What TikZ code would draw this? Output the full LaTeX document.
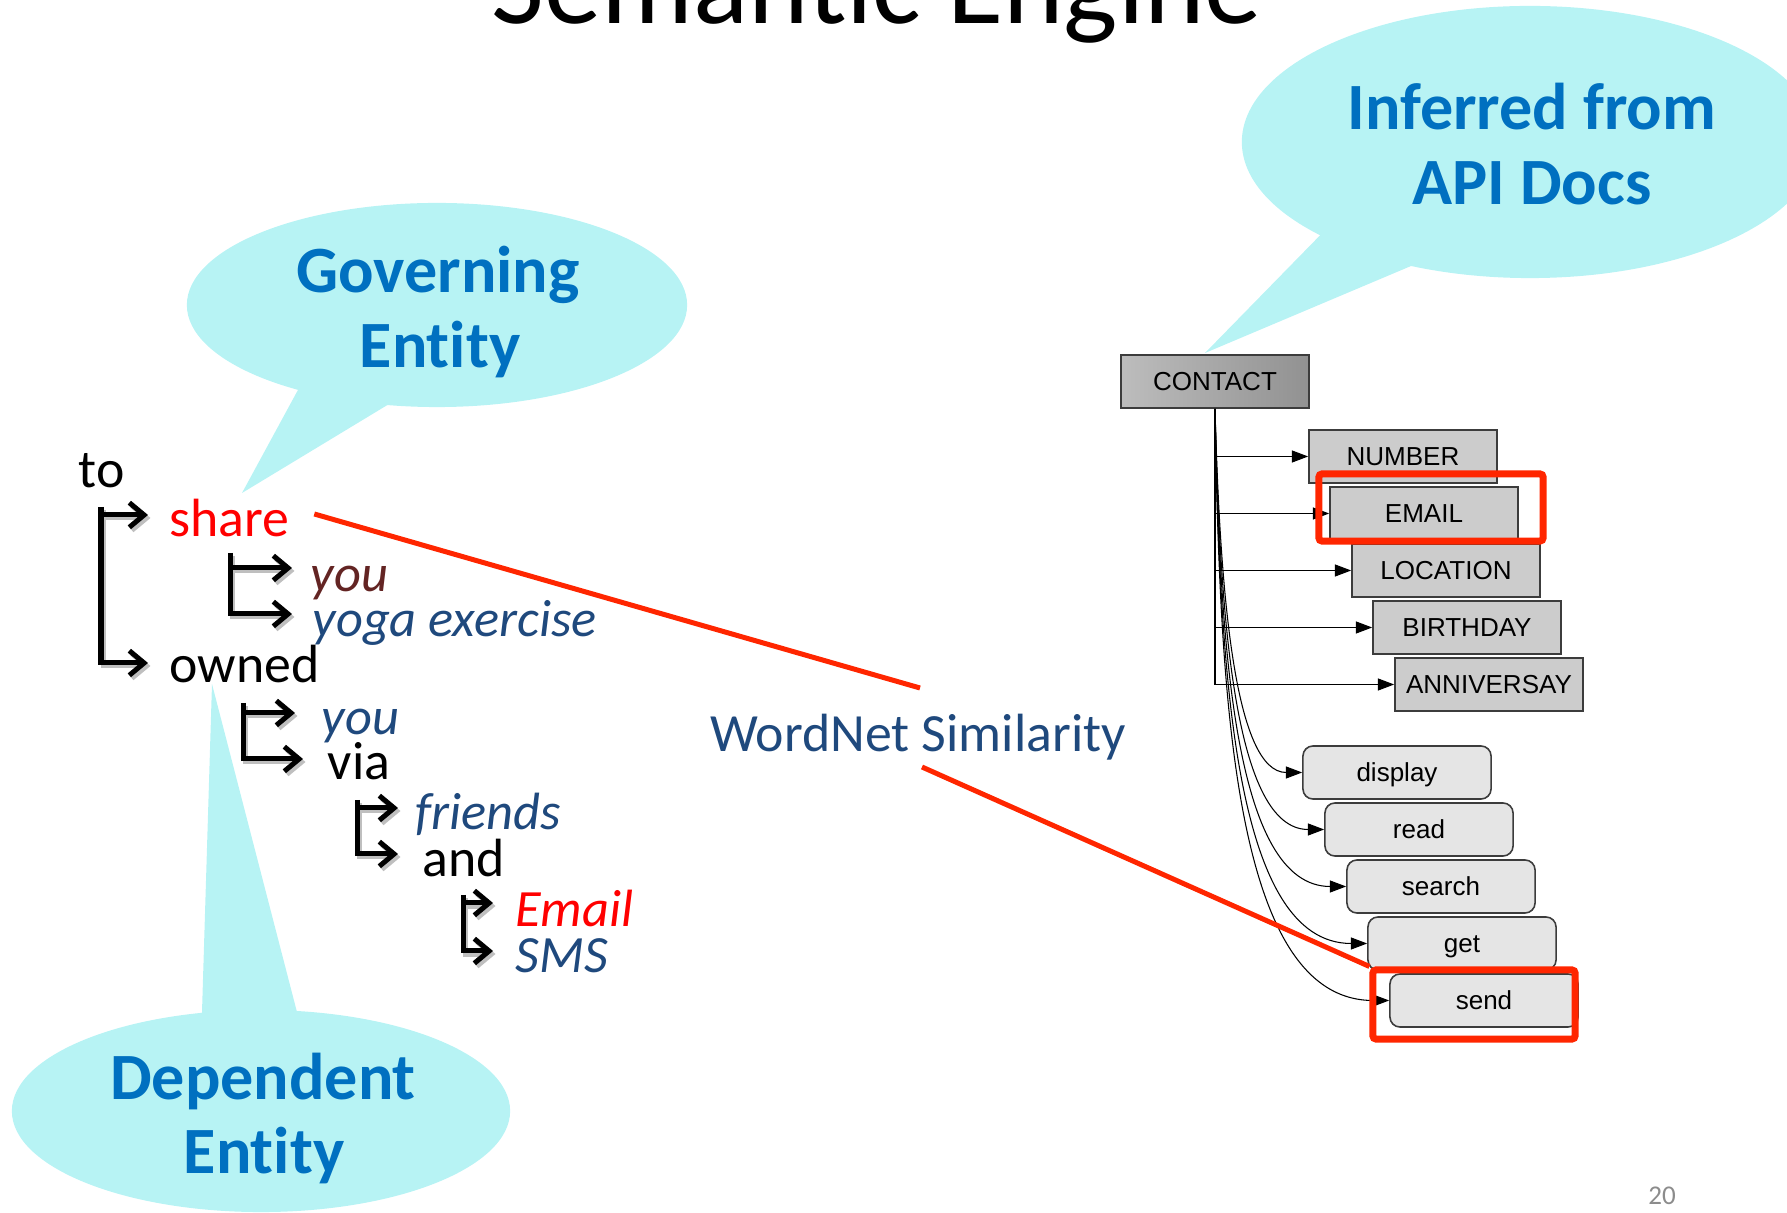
\documentclass[tikz,border=0pt]{standalone}
\usepackage{fontspec}
\setmainfont{Carlito}[Ligatures=NoCommon]
\newfontfamily\boxfont{Liberation Sans}
\usetikzlibrary{arrows.meta,calc}

\definecolor{bub}{RGB}{183,243,244}
\definecolor{bubtxt}{RGB}{0,112,192}
\definecolor{tblue}{RGB}{31,73,125}
\definecolor{tbrown}{RGB}{99,36,35}
\definecolor{hl}{RGB}{255,38,0}
\definecolor{pgnum}{RGB}{140,140,140}
\definecolor{boxfill}{RGB}{204,204,204}
\definecolor{mfill}{RGB}{229,229,229}
\definecolor{boxline}{RGB}{60,60,60}

\newcommand\treearrows[1]{%
  \draw[tarr,draw=#1] (b1 |- t1a) -- (t1a);
  \draw[tarr,draw=#1] (b1) |- (t1b);
  \draw[tarr,draw=#1] (b2 |- t2a) -- (t2a);
  \draw[tarr,draw=#1] (b2) |- (t2b);
  \draw[tarr,draw=#1] (b3 |- t3a) -- (t3a);
  \draw[tarr,draw=#1] (b3) |- (t3b);
  \draw[tarr,draw=#1] (b4 |- t4a) -- (t4a);
  \draw[tarr,draw=#1] (b4) |- (t4b);
  \draw[tarr,draw=#1] (b5 |- t5a) -- (t5a);
  \draw[tarr,draw=#1] (b5) |- (t5b);
}

\begin{document}
\begin{tikzpicture}[x=0.01cm,y=-0.01cm,
  bubble/.style={fill=bub,draw=none},
  btext/.style={anchor=base,inner sep=0pt,text=bubtxt,font=\fontsize{18.8}{22}\selectfont\bfseries},
  tree/.style={anchor=base west,inner sep=0pt,font=\fontsize{15.3}{18}\selectfont},
  itree/.style={anchor=base west,inner sep=0pt,font=\fontsize{14.9}{18}\selectfont\itshape},
  tarr/.style={line width=0.05cm,-{Straight Barb[length=4.2pt,width=7pt]}},
  catbox/.style={draw=boxline,line width=0.45pt,fill=boxfill,minimum width=1.88cm,minimum height=0.53cm,inner sep=0pt,text height=5.3pt,text depth=0pt,font=\boxfont\fontsize{7.4}{8}\selectfont},
  methbox/.style={catbox,fill=mfill,rounded corners=0.1cm},
  garr/.style={line width=0.3pt,-{Triangle[length=4.6pt,width=3.4pt]}},
  hlbox/.style={draw=hl,line width=0.07cm,rounded corners=0.03cm,inner sep=0pt},
  hlline/.style={draw=hl,line width=0.05cm},
]
\useasboundingbox (0,0) rectangle (1787,1213);
\clip (0,0) rectangle (1787,1213);

% title and page number
\node[anchor=base,inner sep=0pt,font=\fontsize{32.7}{36}\selectfont] (title) at (877,24) {Semantic Engine};
\node[anchor=base,inner sep=0pt,text=pgnum,font=\fontsize{7.7}{9}\selectfont] (pg) at (1662,1205) {20};

% bubbles
\fill[bubble] (1530,142) ellipse [x radius=2.88cm, y radius=1.36cm];
\fill[bubble] (1205,353) -- (1337,218) -- (1430,258) -- cycle;
\fill[bubble] (437,305) ellipse [x radius=2.50cm, y radius=1.02cm];
\fill[bubble] (242,493) -- (305,377) -- (399,398) -- cycle;
\fill[bubble] (261,1111) ellipse [x radius=2.49cm, y radius=1.01cm];
\fill[bubble] (212,684) -- (201,1045) -- (305,1043) -- cycle;

\node[btext] (inf1) at (1532,130) {Inferred from};
\node[btext] (inf2) at (1532,205) {API Docs};
\node[btext] (gov1) at (438,293) {Governing};
\node[btext] (gov2) at (440,368) {Entity};
\node[btext] (dep1) at (263,1100) {Dependent};
\node[btext] (dep2) at (264,1174) {Entity};

% tree text
\node[tree] (to) at (78,488) {to};
\node[tree,text=red] (share) at (169,537) {share};
\node[itree,text=tbrown] (you1) at (310,592) {you};
\node[itree,text=tblue] (yoga) at (312,637) {yoga exercise};
\node[tree] (owned) at (169,683) {owned};
\node[itree,text=tblue] (you2) at (321,735) {you};
\node[tree] (via) at (327,780) {via};
\node[itree,text=tblue] (friends) at (415,830) {friends};
\node[tree] (and) at (422,877) {and};
\node[itree,text=red] (email) at (515,927) {Email};
\node[itree,text=tblue] (sms) at (515,973) {SMS};

% tree arrow geometry
\coordinate (b1) at (101,507);
\coordinate (b2) at (230,553);
\coordinate (b3) at (243,703);
\coordinate (b4) at (357,800);
\coordinate (b5) at (463,895);
\coordinate (t1a) at ([shift={(-21,-22)}]share.base west);
\coordinate (t1b) at ([shift={(-21,-20)}]owned.base west);
\coordinate (t2a) at ([shift={(-18,-24)}]you1.base west);
\coordinate (t2b) at ([shift={(-20,-23)}]yoga.base west);
\coordinate (t3a) at ([shift={(-26,-22)}]you2.base west);
\coordinate (t3b) at ([shift={(-24,-21)}]via.base west);
\coordinate (t4a) at ([shift={(-17,-22)}]friends.base west);
\coordinate (t4b) at ([shift={(-24,-23)}]and.base west);
\coordinate (t5a) at ([shift={(-22,-24)}]email.base west);
\coordinate (t5b) at ([shift={(-22,-22)}]sms.base west);

\begin{scope}[transform canvas={shift={(0.025cm,-0.03cm)}}]
  \treearrows{black!25}
\end{scope}
\treearrows{black}

% WordNet label
\node[tree,anchor=base,text=tblue] (wn) at (918,752) {WordNet Similarity};
\coordinate (wnTop) at (920,688);
\coordinate (wnBot) at (922,767);

% API graph
\node[catbox,left color=gray!52,right color=gray!86] (contact) at (1215,381.5) {CONTACT};
\node[catbox] (number) at (1403,456.5) {NUMBER};
\node[catbox] (emailbox) at (1424,513.5) {EMAIL};
\node[catbox] (location) at (1446,570.5) {LOCATION};
\node[catbox] (birthday) at (1467,627.5) {BIRTHDAY};
\node[catbox] (anniv) at (1489,684.5) {ANNIVERSAY};
\node[methbox] (display) at (1397,772.5) {display};
\node[methbox] (read) at (1419,829.5) {read};
\node[methbox] (search) at (1441,886.5) {search};
\node[methbox] (get) at (1462,943.5) {get};
\node[methbox] (send) at (1484,1000.5) {send};

\draw[garr] (contact.south |- number.west) -- (number.west);
\draw[garr] (contact.south |- emailbox.west) -- (emailbox.west);
\draw[garr] (contact.south |- location.west) -- (location.west);
\draw[garr] (contact.south |- birthday.west) -- (birthday.west);
\draw[garr] (contact.south) |- (anniv.west);
\draw[garr] (contact.south) .. controls ($(contact.south)+(5,182)$) and ($(display.west)+(-68,0)$) .. (display.west);
\draw[garr] (contact.south) .. controls ($(contact.south)+(5,210)$) and ($(read.west)+(-90,0)$) .. (read.west);
\draw[garr] (contact.south) .. controls ($(contact.south)+(5,239)$) and ($(search.west)+(-112,0)$) .. (search.west);
\draw[garr] (contact.south) .. controls ($(contact.south)+(5,268)$) and ($(get.west)+(-133,0)$) .. (get.west);
\draw[garr] (contact.south) .. controls ($(contact.south)+(5,296)$) and ($(send.west)+(-155,0)$) .. (send.west);

% highlights
\node[hlbox,minimum width=2.24cm,minimum height=0.67cm] (emailhl) at (1431,507.5) {};
\node[hlbox,minimum width=2.02cm,minimum height=0.69cm] (sendhl) at (1474,1004.5) {};
\draw[hlline] ([shift={(24,-23)}]share.base east) -- (wnTop);
\draw[hlline] (wnBot) -- (sendhl.north west);
\end{tikzpicture}
\end{document}
